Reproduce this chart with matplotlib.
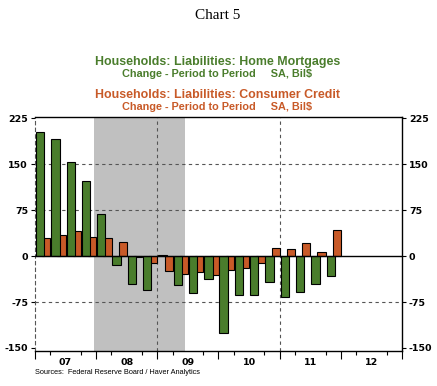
import numpy as np
import matplotlib.pyplot as plt
from matplotlib.transforms import blended_transform_factory

# quarterly changes, 2007Q1 .. 2011Q4 (Bil$, SA)
mortgages = [203, 191, 153, 122, 69, -14, -46, -55, 2, -48,
             -60, -37, -125, -63, -64, -43, -67, -59, -46, -33]
consumer = [30, 34, 41, 31, 30, 23, -1, -12, -24, -30,
            -26, -31, -23, -20, -12, 14, 12, 21, 7, 42]
years = ['07', '08', '09', '10', '11', '12']
yticks = [225, 150, 75, 0, -75, -150]

# recession (Dec 2007 - Jun 2009), in quarters from 2007Q1
rec_start, rec_end = 3.86, 9.8

green = '#4a7d2c'
orange = '#c85a28'
grid_col = '#555555'

fig = plt.figure(figsize=(4.37, 3.86), dpi=100)
ax = fig.add_axes([0.080, 0.0907, 0.840, 0.606])

q = np.arange(len(mortgages))
ax.axvspan(rec_start, rec_end, color='#c0c0c0', zorder=0, lw=0)
ax.bar(q + 0.47, consumer, width=0.54, align='edge', color=orange,
       edgecolor='black', linewidth=0.8, zorder=3)
ax.bar(q + 0.065, mortgages, width=0.545, align='edge', color=green,
       edgecolor='black', linewidth=0.8, zorder=4)

ax.set_xlim(0, 24)
ax.set_ylim(-155, 227)

# dashed grid
for y in [150, 75, -75]:
    ax.axhline(y, color=grid_col, lw=0.8, ls=(0, (3, 3)), zorder=1)
for x in [8, 16]:
    ax.axvline(x, color=grid_col, lw=0.8, ls=(0, (3, 3)), zorder=1)
ax.axhline(0, color='black', lw=1.0, zorder=5)

for s in ['top', 'right', 'bottom']:
    ax.spines[s].set_linewidth(1.0)
ax.spines['left'].set_linestyle((0, (3, 3)))
ax.spines['left'].set_color(grid_col)
ax.spines['left'].set_linewidth(0.8)

# y axis both sides
ax.set_yticks(yticks)
ax.set_yticklabels([str(v) for v in yticks])
ax.tick_params(axis='y', which='both', left=True, right=True,
               labelleft=True, labelright=True, direction='out',
               length=3, width=0.8, labelsize=6.8, pad=2)
for lab in ax.get_yticklabels():
    lab.set_fontweight('bold')

# x axis: year ticks long, quarter ticks short, labels at mid-year
ax.set_xticks(np.arange(0, 25, 4))
ax.set_xticklabels([])
ax.set_xticks([i for i in range(24) if i % 4 in (1, 3)], minor=True)
ax.tick_params(axis='x', which='major', direction='out', length=6, width=0.8)
ax.tick_params(axis='x', which='minor', direction='out', length=3, width=0.8)
trans = blended_transform_factory(ax.transData, ax.transAxes)
for i, yr in enumerate(years):
    ax.text(i * 4 + 2, -0.03, yr, transform=trans, ha='center', va='top',
            fontsize=6.8, fontweight='bold')

# titles
fig.text(0.497, 0.961, 'Chart 5', ha='center', va='center',
         fontsize=11, family='Liberation Serif')
fig.text(0.497, 0.839, 'Households: Liabilities: Home Mortgages',
         ha='center', va='center', fontsize=8.9, fontweight='bold',
         color=green, family='Liberation Sans')
fig.text(0.497, 0.808, 'Change - Period to Period     SA, Bil$',
         ha='center', va='center', fontsize=7.8, fontweight='bold',
         color=green, family='Liberation Sans')
fig.text(0.497, 0.754, 'Households: Liabilities: Consumer Credit',
         ha='center', va='center', fontsize=8.9, fontweight='bold',
         color=orange, family='Liberation Sans')
fig.text(0.497, 0.723, 'Change - Period to Period     SA, Bil$',
         ha='center', va='center', fontsize=7.8, fontweight='bold',
         color=orange, family='Liberation Sans')

fig.text(0.080, 0.034, 'Sources:  Federal Reserve Board / Haver Analytics',
         ha='left', va='center', fontsize=5.3, family='Liberation Sans')

fig.savefig('out.png', dpi=100)
